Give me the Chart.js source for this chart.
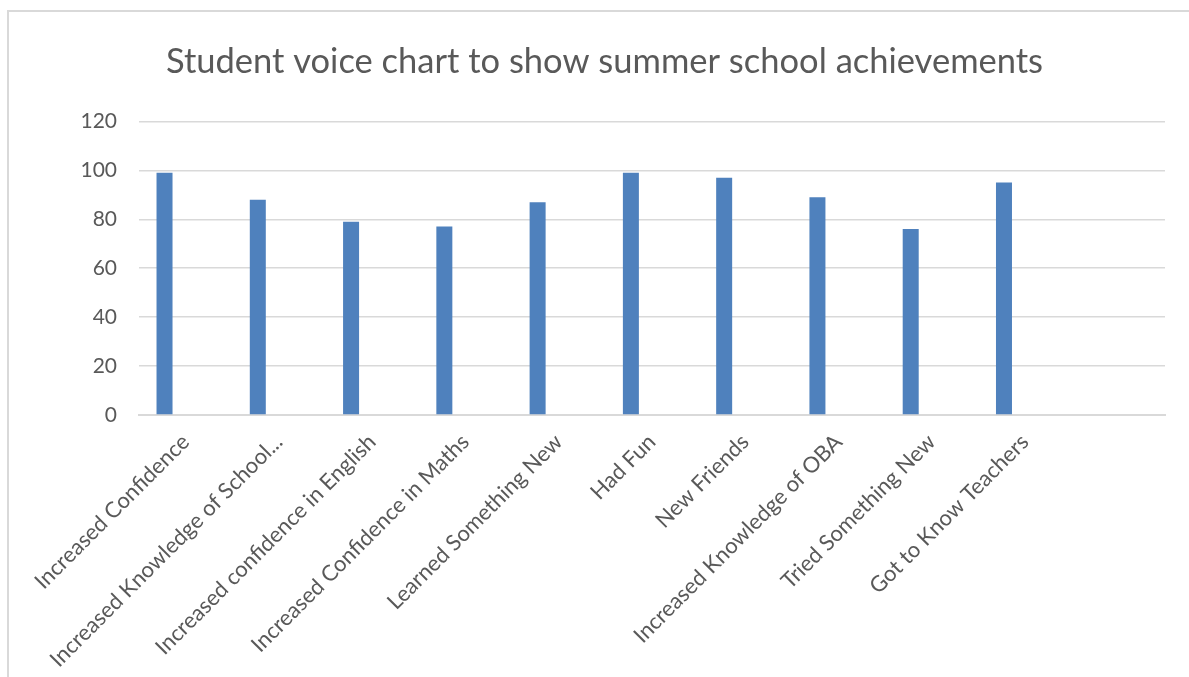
<!DOCTYPE html>
<html>
<head>
<meta charset="utf-8">
<script src="https://cdn.jsdelivr.net/npm/chart.js@4"></script>
<style>
    html, body { margin: 0; padding: 0; background: #fff; }
    #wrap {
        position: absolute; left: 7px; top: 10px;
        width: 1182px; height: 667px;
        border-left: 2px solid #d9d9d9; border-top: 2px solid #d9d9d9;
    }
</style>
</head>
<body>
<div id="wrap"><canvas id="chart"></canvas></div>
<script>
const categories = [
    "Increased Confidence",
    "Increased Knowledge of School...",
    "Increased confidence in English",
    "Increased Confidence in Maths",
    "Learned Something New",
    "Had Fun",
    "New Friends",
    "Increased Knowledge of OBA",
    "Tried Something New",
    "Got to Know Teachers",
    ""
];
const studentValues = [99, 88, 79, 77, 87, 99, 97, 89, 76, 95, null];
// two empty series kept from the source sheet, they only take up room in each group
const emptySeriesA = [];
const emptySeriesB = [];
const yTicks = [0, 20, 40, 60, 80, 100, 120];

const font = "Lato, 'Open Sans', sans-serif";
const grey = "#595959";

new Chart(document.getElementById("chart"), {
    type: "bar",
    data: {
        labels: categories,
        datasets: [
            { label: "Series1", data: studentValues, backgroundColor: "#4f81bd", categoryPercentage: 0.679, barPercentage: 0.758 },
            { label: "Series2", data: emptySeriesA, backgroundColor: "#c0504d", categoryPercentage: 0.679, barPercentage: 0.758 },
            { label: "Series3", data: emptySeriesB, backgroundColor: "#9bbb59", categoryPercentage: 0.679, barPercentage: 0.758 }
        ]
    },
    options: {
        responsive: true,
        maintainAspectRatio: false,
        animation: false,
        // left padding pushes the title centre to the right, y axis width makes up for it
        layout: { padding: { left: 35, right: 26, top: 0, bottom: 0 } },
        plugins: {
            legend: { display: false },
            tooltip: { enabled: false },
            title: {
                display: true,
                text: "Student voice chart to show summer school achievements",
                color: grey,
                font: { family: font, size: 34.5, weight: "normal" },
                padding: { top: 29, bottom: 39 }
            }
        },
        scales: {
            x: {
                grid: { display: false },
                border: { color: "#d9d9d9", width: 2 },
                ticks: {
                    color: grey,
                    font: { family: font, size: 22 },
                    minRotation: 45,
                    maxRotation: 45,
                    autoSkip: false,
                    padding: 6
                },
                afterFit: (scale) => { scale.height = 264; }
            },
            y: {
                min: 0,
                max: 120,
                afterBuildTicks: (scale) => { scale.ticks = yTicks.map((v) => ({ value: v })); },
                grid: { color: "#d9d9d9", lineWidth: 1.5, drawTicks: false },
                border: { display: false },
                ticks: {
                    color: grey,
                    font: { family: font, size: 21 },
                    padding: 22
                },
                afterFit: (scale) => { scale.width = 95; }
            }
        }
    }
});
</script>
</body>
</html>
